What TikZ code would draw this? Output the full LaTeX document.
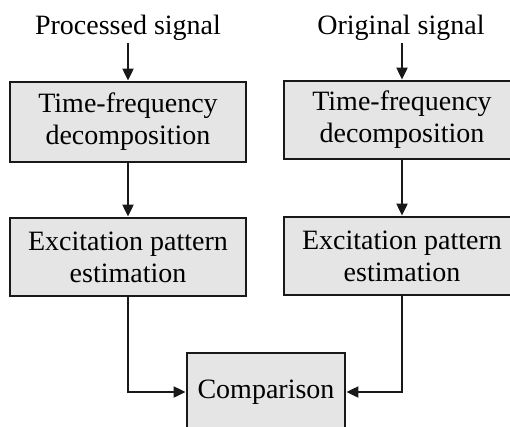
\documentclass[tikz,border=0pt]{standalone}
\usepackage{fontspec}
\setmainfont{Liberation Serif}
\usetikzlibrary{arrows.meta}
\begin{document}
\begin{tikzpicture}[x=1pt,y=-1pt,
  box/.style={draw=black!90, line width=2.8pt, fill=black!10, align=center,
    font=\fontsize{28}{32}\selectfont, inner sep=0pt},
  lbl/.style={font=\fontsize{28}{32}\selectfont, inner sep=0pt, anchor=base},
  arr/.style={line width=2pt, draw=black!90, -{Triangle[length=12pt,width=11pt]}}
]
\useasboundingbox (0,0) rectangle (510,426);
\clip (0,0) rectangle (510,426);
\node[lbl] (in1) at (128,34) {Processed signal};
\node[lbl] (in2) at (401,34) {Original signal};
\node[box, minimum width=236pt, minimum height=80pt] (tf1) at (128,122) {Time-frequency\\decomposition};
\node[box, minimum width=236pt, minimum height=78pt] (tf2) at (402,120) {Time-frequency\\decomposition};
\node[box, minimum width=236pt, minimum height=78pt] (ep1) at (128,257) {Excitation pattern\\estimation};
\node[box, minimum width=236pt, minimum height=78pt] (ep2) at (402,256) {Excitation pattern\\estimation};
\node[box, minimum width=158pt, minimum height=78pt] (cmp) at (266,392) {Comparison};
\coordinate (a1) at (128,43);
\coordinate (a2) at (402,43);
\draw[arr] (a1) -- (tf1.north);
\draw[arr] (a2) -- (tf2.north);
\draw[arr] (tf1.south) -- (ep1.north);
\draw[arr] (tf2.south) -- (ep2.north);
\draw[arr] (ep1.south) |- (cmp.west);
\draw[arr] (ep2.south) |- (cmp.east);
\end{tikzpicture}
\end{document}
